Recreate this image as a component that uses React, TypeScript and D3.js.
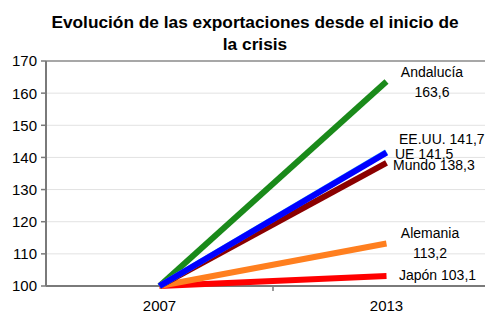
import React from 'react'
import * as d3 from 'd3'

// data
const years = ['2007', '2013']
const series = ['Japón', 'Alemania', 'Andalucía', 'Mundo', 'EE.UU.', 'UE']
const startValues = [100, 100, 100, 100, 100, 100]
const endValues = [103.1, 113.2, 163.6, 138.3, 141.7, 141.5]
const endLabels = ['103,1', '113,2', '163,6', '138,3', '141,7', '141,5']
const yTicks = [100, 110, 120, 130, 140, 150, 160, 170]

const colors = ['#ff0000', '#ff7f1f', '#1a8a1a', '#8b0000', '#3fb4ff', '#0000ff']
// label layout: x, y offset from line end, two lines?
const labelLayout = [
  { x: 399, dy: 4, anchor: 'start', split: false },
  { x: 430, dy: -6, anchor: 'middle', split: true },
  { x: 432, dy: -5, anchor: 'middle', split: true },
  { x: 393, dy: 7, anchor: 'start', split: false },
  { x: 399, dy: -8, anchor: 'start', split: false },
  { x: 395, dy: 6, anchor: 'start', split: false },
]

const W = 485
const H = 313
const margin = { left: 46, right: 500, top: 61, bottom: 286 }
const FONT = '"Liberation Sans", Arial, sans-serif'

export default function App() {
  const x = d3.scaleBand().domain(years).range([margin.left, margin.right]).padding(0)
  const y = d3.scaleLinear().domain([100, 170]).range([margin.bottom, margin.top])
  const cx = (yr: string) => (x(yr) as number) + x.bandwidth() / 2
  const line = d3
    .line<[string, number]>()
    .x(d => cx(d[0]))
    .y(d => y(d[1]))

  return (
    <svg
      width={W}
      height={H}
      style={{ position: 'absolute', left: 0, top: 0, background: '#fff' }}
      fontFamily={FONT}
    >
      {/* title */}
      <text x={255} textAnchor="middle" fontWeight="bold" fontSize={17.3} fill="#000">
        <tspan x={255} y={28}>Evolución de las exportaciones desde el inicio de</tspan>
        <tspan x={255} y={50}>la crisis</tspan>
      </text>

      {/* gridlines */}
      {yTicks.slice(1, -1).map(t => (
        <line key={t} x1={margin.left} x2={W} y1={y(t)} y2={y(t)} stroke="#e2e2e2" strokeWidth={1} />
      ))}
      <line x1={margin.left} x2={W} y1={y(170)} y2={y(170)} stroke="#8a8a8a" strokeWidth={1.5} />

      {/* y axis */}
      <line x1={margin.left} x2={margin.left} y1={margin.top} y2={margin.bottom} stroke="#7a7a7a" strokeWidth={2} />
      {yTicks.map(t => (
        <g key={t}>
          <line x1={margin.left - 5} x2={margin.left} y1={y(t)} y2={y(t)} stroke="#7a7a7a" strokeWidth={1.5} />
          <text x={37} y={y(t)} dy="0.36em" textAnchor="end" fontSize={15} fill="#000">
            {t}
          </text>
        </g>
      ))}

      {/* x axis */}
      <line x1={margin.left} x2={W} y1={margin.bottom} y2={margin.bottom} stroke="#7a7a7a" strokeWidth={2} />
      <line x1={x('2013')} x2={x('2013')} y1={margin.bottom} y2={margin.bottom + 5} stroke="#7a7a7a" strokeWidth={1.5} />
      {years.map(yr => (
        <text key={yr} x={cx(yr)} y={311} textAnchor="middle" fontSize={15} fill="#000">
          {yr}
        </text>
      ))}

      {/* series */}
      {series.map((s, i) => (
        <path
          key={s}
          d={line([
            [years[0], startValues[i]],
            [years[1], endValues[i]],
          ]) as string}
          fill="none"
          stroke={colors[i]}
          strokeWidth={6}
        />
      ))}

      {/* end labels */}
      {series.map((s, i) => {
        const L = labelLayout[i]
        const yy = y(endValues[i]) + L.dy
        return L.split ? (
          <text key={s} textAnchor="middle" fontSize={14} fill="#000">
            <tspan x={L.x} y={yy}>{s}</tspan>
            <tspan x={L.x} y={yy + 20}>{endLabels[i]}</tspan>
          </text>
        ) : (
          <text key={s} x={L.x} y={yy} textAnchor={L.anchor} fontSize={14} fill="#000">
            {s} {endLabels[i]}
          </text>
        )
      })}
    </svg>
  )
}
